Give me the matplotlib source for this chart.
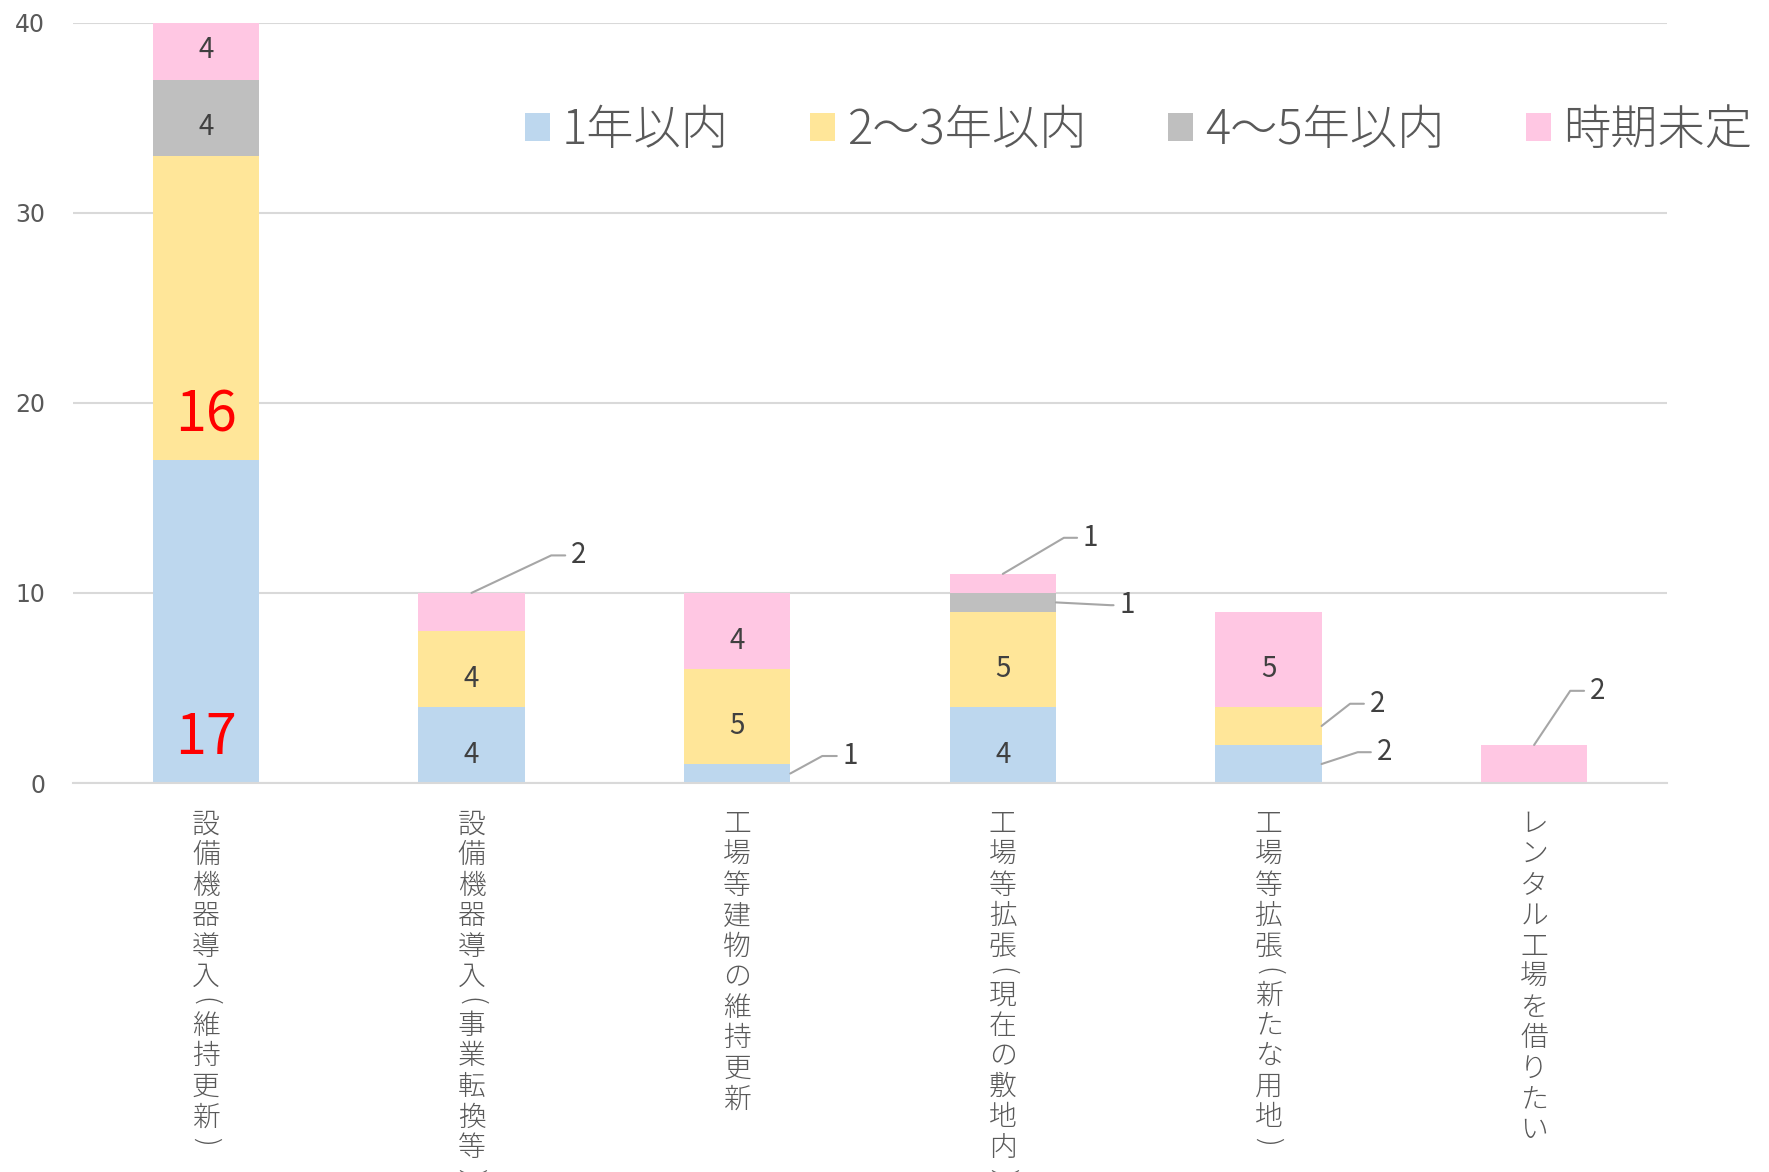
import numpy as np
import matplotlib.pyplot as plt

plt.rcParams['font.family'] = ['Noto Sans CJK JP', 'DejaVu Sans']

# データ
categories = ["設備機器導入(維持更新)", "設備機器導入(事業転換等)", "工場等建物の維持更新",
              "工場等拡張(現在の敷地内)", "工場等拡張(新たな用地)", "レンタル工場を借りたい"]
series_names = ["1年以内", "2〜3年以内", "4〜5年以内", "時期未定"]
within_1 = [17, 4, 1, 4, 2, 0]
within_2_3 = [16, 4, 5, 5, 2, 0]
within_4_5 = [4, 0, 0, 1, 0, 0]
undecided = [4, 2, 4, 1, 5, 2]
yticks = [0, 10, 20, 30, 40]

series = [within_1, within_2_3, within_4_5, undecided]
colors = ["#BDD7EE", "#FFE699", "#BFBFBF", "#FFC7E3"]
grid_c = "#D9D9D9"
text_c = "#595959"
label_c = "#404040"
ymax = 40
width = 0.4

# 引き出し線付きラベル: (系列, 項目, 起点, dx, dy, 水平部) 単位 pt
callouts = [
    (3, 1, "top", 77, 27, 19.5),
    (0, 2, "right", 43, 12.6, 20),
    (3, 3, "top", 63, 26, 19),
    (2, 3, "right", 51, -2, 12),
    (1, 4, "right", 40, 16, 19.5),
    (0, 4, "right", 45, 8.5, 19),
    (3, 5, "top", 45.5, 39, 19.5),
]
big_red = [(0, 0), (1, 0)]  # (系列, 項目)

fig = plt.figure(figsize=(17.69, 11.72), dpi=100)
ax = fig.add_axes([0.0413, 0.3319, 0.9010, 0.6488])

x = np.arange(len(categories))
bottom = np.zeros(len(categories))
bottoms = []
handles = []
for vals, c, name in zip(series, colors, series_names):
    b = ax.bar(x, vals, width, bottom=bottom, color=c, label=name, zorder=2)
    handles.append(b)
    bottoms.append(bottom.copy())
    bottom = bottom + np.array(vals)

ax.set_ylim(0, ymax)
ax.set_xlim(-0.5, len(categories) - 0.5)
ax.set_yticks(yticks)
ax.set_yticklabels([str(t) for t in yticks], family='DejaVu Sans', fontsize=17, color=text_c)
ax.tick_params(axis='y', length=0, pad=20)
ax.set_xticks([])
ax.yaxis.grid(True, color=grid_c, lw=1.5)
ax.set_axisbelow(True)
for s in ["top", "right", "left"]:
    ax.spines[s].set_visible(False)
ax.spines["bottom"].set_color(grid_c)
ax.spines["bottom"].set_linewidth(1.5)

callout_keys = {(s, c): (a, dx, dy, h) for s, c, a, dx, dy, h in callouts}

for si, vals in enumerate(series):
    for ci, v in enumerate(vals):
        if v == 0:
            continue
        b0 = bottoms[si][ci]
        if (si, ci) in big_red:
            ax.text(ci, b0 + 2.33, str(v), ha='center', va='center', fontsize=40,
                    color='red', zorder=3)
        elif (si, ci) in callout_keys:
            a, dx, dy, h = callout_keys[(si, ci)]
            if a == "top":
                px, py = ci, b0 + v
            else:
                px, py = ci + width / 2, b0 + v / 2
            ang = np.degrees(np.arctan2(dy, dx - h))
            ax.annotate(str(v), xy=(px, py), xytext=(dx, dy), textcoords='offset points',
                        ha='center', va='center', fontsize=20, color=label_c,
                        arrowprops=dict(arrowstyle='-', color='#A6A6A6', lw=1.5,
                                        shrinkA=2, shrinkB=0,
                                        connectionstyle=f"angle,angleA=0,angleB={ang:.1f},rad=0"),
                        zorder=3)
        else:
            top = min(b0 + v, ymax)
            shift = -7 if b0 + v <= ymax else 1
            ax.annotate(str(v), xy=(ci, (b0 + top) / 2), xytext=(0, shift),
                        textcoords='offset points', ha='center', va='center',
                        fontsize=20, color=label_c, zorder=3)

# 縦書きの項目ラベル
for ci, name in enumerate(categories):
    off = 18.8
    for ch in name:
        if ch in "()":
            step, rot = 13, -90
        else:
            step, rot = 22.0, 0
        ax.annotate(ch, xy=(ci, 0), xycoords=('data', 'axes fraction'),
                    xytext=(0, -(off + step / 2)), textcoords='offset points',
                    ha='center', va='center', rotation=rot, fontsize=20, color=text_c,
                    fontweight='light', annotation_clip=False)
        off += step

leg = fig.legend(handles=handles, labels=series_names, loc='center left',
                 bbox_to_anchor=(0.2965, 0.889), ncol=4, frameon=False,
                 labelcolor=text_c, handlelength=0.53, handleheight=0.53,
                 handletextpad=0.26, columnspacing=1.72, borderpad=0, borderaxespad=0,
                 prop={'size': 34, 'weight': 'light'})

fig.savefig("out.png", dpi=100)
